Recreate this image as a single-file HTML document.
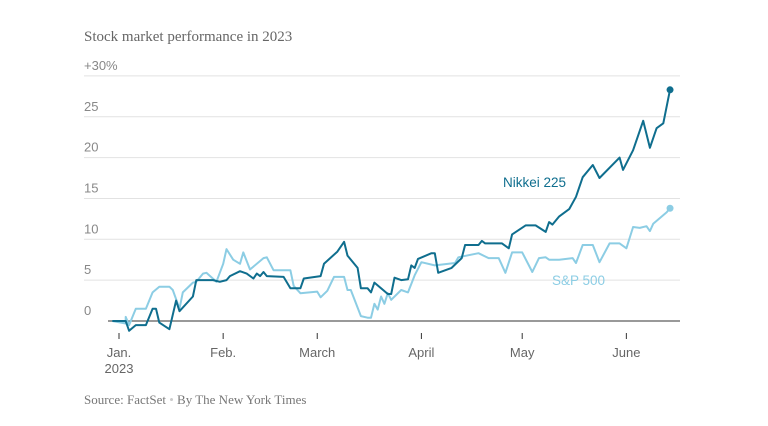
<!DOCTYPE html>
<html><head><meta charset="utf-8"><style>
body{margin:0;background:#fff;width:768px;height:421px;overflow:hidden}
svg text{font-family:"Liberation Sans",sans-serif}
</style></head><body>
<svg width="768" height="421">
<text x="84" y="41" font-family="Liberation Serif" font-size="15" fill="#666" style="font-family:'Liberation Serif',serif">Stock market performance in 2023</text>
<g id="grid"></g><g id="xaxis"></g><g id="lines"></g>
<text x="503" y="187" font-size="13.5" fill="#0f6e8e">Nikkei 225</text>
<text x="552" y="285" font-size="13.5" fill="#8ccde4">S&amp;P 500</text>
<text x="84" y="404" font-size="13" fill="#777" style="font-family:'Liberation Serif',serif">Source: FactSet <tspan fill="#ccc">•</tspan> By The New York Times</text>
</svg>
<script>
const yTicks=[0,5,10,15,20,25,30];
const yTickLabels=["0","5","10","15","20","25","+30%"];
const monthDays=[0,31,59,90,120,151];
const monthLabels=["Jan.","Feb.","March","April","May","June"];
const nkDays=[-2,2,3,5,8,10,11,12,15,17,18,22,23,28,30,32,33,36,38,40,41,42,43,44,49,51,54,55,60,61,65,67,68,71,72,74,75,76,80,81,82,84,86,87,88,89,93,94,95,99,102,103,107,108,109,110,114,116,117,121,124,127,128,129,131,134,136,138,141,143,149,150,153,156,158,160,162,164];
const nkVals=[0,0,-1.2,-0.5,-0.5,1.5,1.5,-0.2,-1.0,2.5,1.2,3,5,5,4.8,5,5.5,6.1,5.8,5.2,5.8,5.5,6,5.5,5.4,4,4,5.2,5.5,7,8.5,9.7,8,6.5,4,4,3.5,4.7,3.3,3.3,5.3,5,5.1,6.8,6.5,7.6,8.3,8.3,5.9,6.5,7.7,9.3,9.3,9.8,9.5,9.5,9.5,8.9,10.6,11.7,11.7,10.9,12.1,11.8,12.8,13.7,15.2,17.6,19.1,17.5,20,18.5,20.9,24.5,21.2,23.6,24.2,28.3];
const spDays=[-2,2,2,3,5,8,10,12,15,16,18,19,22,23,25,26,29,31,32,34,36,37,39,43,44,46,51,52,54,59,60,62,64,67,68,69,72,74,75,76,77,78,79,80,81,84,86,88,90,94,100,101,107,110,113,115,117,120,123,125,127,128,131,135,136,138,141,143,146,149,151,153,155,157,158,159,163,164];
const spVals=[0,-0.3,0.5,-0.5,1.5,1.5,3.5,4.2,4.2,3.8,1.5,3.5,4.7,4.8,5.8,5.9,4.8,7,8.8,7.5,7,8.4,6.3,7.7,7.8,6.2,6.2,4.3,3.4,3.6,2.9,3.7,5.4,5.4,3.8,3.8,0.6,0.4,0.4,2.1,1.4,3,2.1,3.4,2.6,3.8,3.5,5.6,7.2,6.8,7.1,7.8,8.3,7.7,7.7,5.9,8.4,8.4,6.0,7.7,7.8,7.5,7.5,7.7,7.1,9.3,9.3,7.2,9.5,9.5,8.9,11.5,11.4,11.6,11.0,11.9,13.3,13.8];
const NS="http://www.w3.org/2000/svg";
const X=d=>119+d*3.36, Y=v=>321-v*8.17;
function mk(tag,attrs,parent){const e=document.createElementNS(NS,tag);for(const k in attrs)e.setAttribute(k,attrs[k]);parent.appendChild(e);return e;}
const grid=document.getElementById('grid'),xa=document.getElementById('xaxis'),lines=document.getElementById('lines');
yTicks.forEach((t,i)=>{
 if(t!==0){const l=mk('line',{x1:84,x2:680,y1:Y(t),y2:Y(t),stroke:'#e2e2e2','stroke-width':1},grid);
 
 }
 const tx=mk('text',{x:84,y:Y(t)-6,'font-size':13,fill:'#888'},grid);tx.textContent=yTickLabels[i];
 
 
});
const base=mk('line',{x1:108,x2:680,y1:Y(0),y2:Y(0),stroke:'#333','stroke-width':1},grid);


monthDays.forEach((d,i)=>{
 const tk=mk('line',{x1:X(d),x2:X(d),y1:333,y2:339,stroke:'#333'},xa);
 
 
 const tx=mk('text',{x:X(d),y:357,'font-size':13,fill:'#666','text-anchor':'middle'},xa);tx.textContent=monthLabels[i];
 
 
});
const yr=mk('text',{x:X(0),y:373,'font-size':13,fill:'#666','text-anchor':'middle'},xa);yr.textContent='2023';


function series(days,vals,color,name){
 const p=mk('path',{d:days.map((d,i)=>(i?'L':'M')+X(d).toFixed(1)+' '+Y(vals[i]).toFixed(1)).join(''),fill:'none',stroke:color,'stroke-width':2,'stroke-linejoin':'round'},lines);
 
 
 const n=days.length-1;
 const c=mk('circle',{cx:X(days[n]),cy:Y(vals[n]),r:3.5,fill:color},lines);
 
 
}
series(spDays,spVals,'#8ccde4','sp500');
series(nkDays,nkVals,'#0f6e8e','nikkei');
</script>
</body></html>
